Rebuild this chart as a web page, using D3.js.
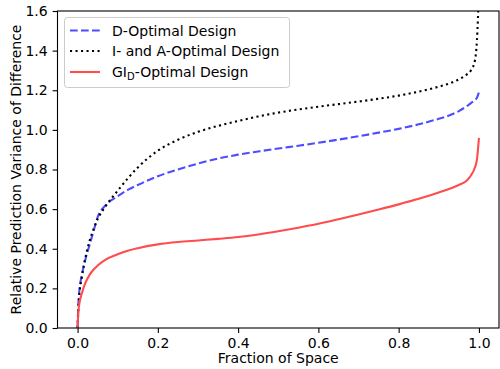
<!DOCTYPE html>
<html>
<head>
<meta charset="utf-8">
<script src="https://cdn.jsdelivr.net/npm/d3@7"></script>
<style>
  body { margin: 0; background: #fff; }
  text { font-family: "DejaVu Sans", sans-serif; fill: #000; }
</style>
</head>
<body>
<div id="chart"></div>
<script>
// fraction of design space (x), shared by all three curves
var fraction = [0, 0.002, 0.005, 0.01, 0.02, 0.03, 0.04, 0.05, 0.07, 0.1, 0.125, 0.15, 0.2, 0.25,
                0.3, 0.35, 0.4, 0.45, 0.5, 0.55, 0.6, 0.65, 0.7, 0.75, 0.8, 0.85, 0.9, 0.93,
                0.95, 0.97, 0.98, 0.99, 0.995, 1.0];

var dOptimal = [0, 0.12, 0.2, 0.26, 0.35, 0.42, 0.49, 0.56, 0.62, 0.665, 0.697, 0.722, 0.766, 0.8,
                0.83, 0.855, 0.875, 0.891, 0.906, 0.92, 0.935, 0.951, 0.968, 0.986, 1.005, 1.028, 1.056, 1.076,
                1.095, 1.12, 1.135, 1.15, 1.162, 1.19];

var iaOptimal = [0, 0.1, 0.18, 0.25, 0.36, 0.44, 0.5, 0.55, 0.615, 0.693, 0.755, 0.81, 0.895, 0.95,
                 0.99, 1.02, 1.045, 1.068, 1.087, 1.103, 1.117, 1.13, 1.143, 1.157, 1.173, 1.193, 1.218, 1.237,
                 1.255, 1.28, 1.3, 1.35, 1.45, 1.7];

var gidOptimal = [0, 0.08, 0.13, 0.17, 0.23, 0.268, 0.295, 0.315, 0.345, 0.372, 0.39, 0.403, 0.422, 0.434,
                  0.442, 0.45, 0.459, 0.472, 0.488, 0.506, 0.526, 0.549, 0.573, 0.598, 0.624, 0.652, 0.684, 0.705,
                  0.722, 0.745, 0.77, 0.81, 0.85, 0.96];

var xTicks = [0, 0.2, 0.4, 0.6, 0.8, 1.0];
var yTicks = [0, 0.2, 0.4, 0.6, 0.8, 1.0, 1.2, 1.4, 1.6];

var seriesNames = ["D-Optimal Design", "I- and A-Optimal Design", "GI_D-Optimal Design"];


(function() {
var width = 500, height = 369;
// plot box edges, in pixels
var box = {left: 57.5, right: 499, top: 11, bottom: 328};

var svg = d3.select("#chart").append("svg")
            .attr("width", width)
            .attr("height", height);

var xScale = d3.scaleLinear().domain([-0.05, 1.05]).range([box.left, box.right]);
var yScale = d3.scaleLinear().domain([0, 1.6]).range([box.bottom, box.top]);

svg.append("clipPath").attr("id", "plot-clip")
   .append("rect")
     .attr("x", box.left).attr("y", box.top)
     .attr("width", box.right - box.left).attr("height", box.bottom - box.top);

var lineFor = function(values) {
    return d3.line()
             .x(function(d, i) { return xScale(fraction[i]); })
             .y(function(d) { return yScale(d); })
             .curve(d3.curveMonotoneX)(values);
};

var series = [
    {name: seriesNames[0], values: dOptimal,   color: "#4d4dff", dash: "7.7,3.3"},
    {name: seriesNames[1], values: iaOptimal,  color: "#000000", dash: "2.1,3.4"},
    {name: seriesNames[2], values: gidOptimal, color: "#ff4d4d", dash: null}
];

var plot = svg.append("g").attr("clip-path", "url(#plot-clip)");
series.forEach(function(s) {
    plot.append("path")
        .attr("d", lineFor(s.values))
        .attr("fill", "none")
        .attr("stroke", s.color)
        .attr("stroke-width", 2.1)
        .attr("stroke-dasharray", s.dash);
});

// axes
var xAxis = d3.axisBottom(xScale)
              .tickValues(xTicks)
              .tickFormat(d3.format(".1f"))
              .tickSize(4.9)
              .tickPadding(4.9);
var yAxis = d3.axisLeft(yScale)
              .tickValues(yTicks)
              .tickFormat(d3.format(".1f"))
              .tickSize(4.9)
              .tickPadding(4.9);

var xg = svg.append("g")
            .attr("transform", "translate(0," + box.bottom + ")")
            .call(xAxis);
var yg = svg.append("g")
            .attr("transform", "translate(" + box.left + ",0)")
            .call(yAxis);

[xg, yg].forEach(function(g) {
    g.select(".domain").remove();
    g.selectAll(".tick line").attr("stroke", "#000").attr("stroke-width", 1.1);
    g.selectAll(".tick text").attr("font-size", 14).attr("font-family", "DejaVu Sans");
});

// frame
svg.append("rect")
   .attr("x", box.left).attr("y", box.top)
   .attr("width", box.right - box.left).attr("height", box.bottom - box.top)
   .attr("fill", "none")
   .attr("stroke", "#000")
   .attr("stroke-width", 1.1);

// axis labels
svg.append("text")
   .attr("x", (box.left + box.right) / 2)
   .attr("y", 363)
   .attr("text-anchor", "middle")
   .attr("font-size", 14)
   .text("Fraction of Space");

svg.append("text")
   .attr("transform", "translate(21," + ((box.top + box.bottom) / 2) + ") rotate(-90)")
   .attr("text-anchor", "middle")
   .attr("font-size", 14)
   .text("Relative Prediction Variance of Difference");

// legend
var legend = svg.append("g");
legend.append("rect")
      .attr("x", 64.5).attr("y", 17.5)
      .attr("width", 225).attr("height", 70)
      .attr("rx", 3)
      .attr("fill", "#fff").attr("fill-opacity", 0.8)
      .attr("stroke", "#cccccc");

var rowY = [30.5, 51, 72];
series.forEach(function(s, i) {
    legend.append("line")
          .attr("x1", 70).attr("x2", 100)
          .attr("y1", rowY[i]).attr("y2", rowY[i])
          .attr("stroke", s.color)
          .attr("stroke-width", 2.1)
          .attr("stroke-dasharray", s.dash);
    var t = legend.append("text")
                  .attr("x", 112)
                  .attr("y", rowY[i] + 5)
                  .attr("font-size", 14);
    var parts = s.name.split("_");
    if (parts.length > 1) {
        t.append("tspan").text(parts[0]);
        t.append("tspan").attr("font-size", 10).attr("dy", 3).text(parts[1].charAt(0));
        t.append("tspan").attr("dy", -3).text(parts[1].slice(1));
    } else {
        t.text(s.name);
    }
});
})();
</script>
</body>
</html>
